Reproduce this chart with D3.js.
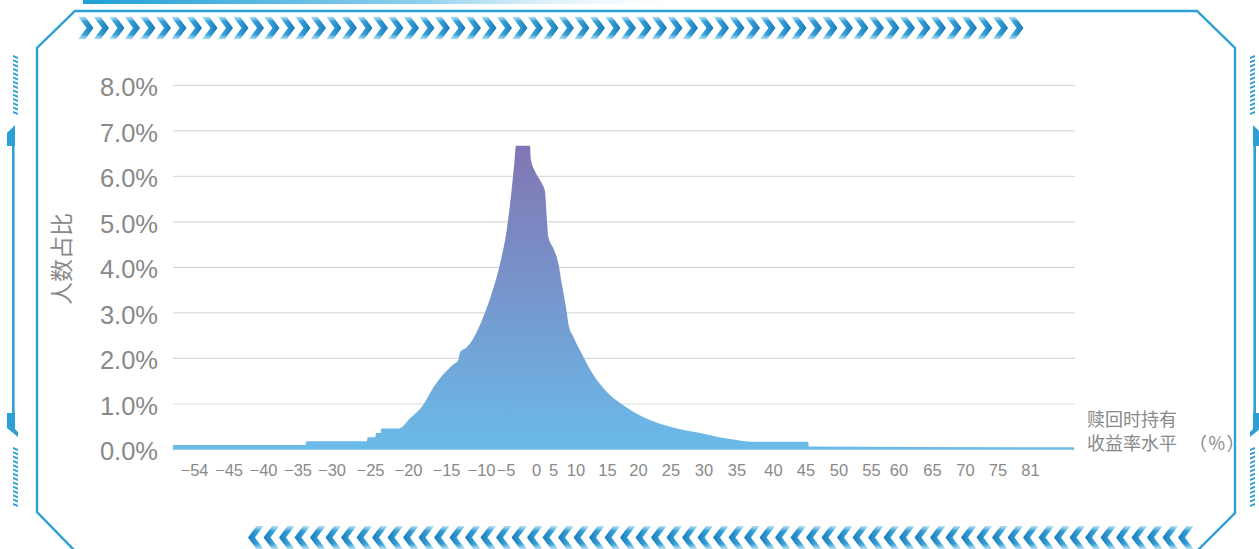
<!DOCTYPE html>
<html>
<head>
<meta charset="utf-8">
<script src="https://cdn.jsdelivr.net/npm/d3@7"></script>
<style>
  html, body { margin: 0; padding: 0; background: #fff; overflow: hidden; }
  svg { display: block; }
</style>
</head>
<body>
<svg id="chart" width="1259" height="549"></svg>
<script>
// ---- data ----
const xTicks = [-54, -45, -40, -35, -30, -25, -20, -15, -10, -5, 0, 5, 10, 15, 20, 25, 30, 35, 40, 45, 50, 55, 60, 65, 70, 75, 81];
const yTicks = [0, 1, 2, 3, 4, 5, 6, 7, 8];

// return level at redemption (%) and share of investors (%)
const returnLevels = [-60, -33.8, -33.7, -25.4, -25.3, -24.3, -24.2, -23.6, -23.5, -21.2, -19.7, -18.0, -16.7, -15.4, -14.0, -13.25, -13.0, -12.0, -11.1, -9.5, -7.8, -6.1, -4.8, -4.0, -3.56, -3.28, -0.98, -0.87, -0.16, 1.68, 2.65, 3.15, 3.62, 5.07, 6.18, 6.93, 8.04, 8.40, 9.51, 11.24, 12.83, 14.95, 17.1, 19.24, 21.85, 24.42, 26.94, 29.47, 32.0, 34.52, 37.1, 45.4, 45.5, 90];
const shares = [0.10, 0.10, 0.18, 0.18, 0.27, 0.27, 0.36, 0.36, 0.46, 0.46, 0.69, 0.98, 1.35, 1.64, 1.86, 1.96, 2.13, 2.25, 2.44, 2.92, 3.43, 4.09, 4.82, 5.70, 6.29, 6.67, 6.67, 6.40, 6.11, 5.85, 5.67, 5.12, 4.68, 4.42, 4.09, 3.65, 3.03, 2.77, 2.48, 2.04, 1.64, 1.27, 1.02, 0.83, 0.65, 0.52, 0.43, 0.36, 0.28, 0.22, 0.17, 0.17, 0.065, 0.05];

const yTitle = "人数占比";
const xTitleLine1 = "赎回时持有";
const xTitleLine2 = ["收益率水平", "（%）"];

// ---- layout ----
const W = 1259, H = 549;
const plotLeft = 173, plotRight = 1075, plotTop = 85.3, plotBottom = 449.5;

// the return axis is piecewise: label stops are spread along the plot width
const axisDomain = [-60, ...xTicks, 90];
const axisOffsets = [0, 21, 55.5, 90, 124.5, 158.5, 197, 235, 273, 308, 332.5, 363, 380, 402.5, 434, 465, 497.5, 530.5, 563.5, 600, 632.5, 665.5, 698, 725.5, 759, 792, 824.5, 857, 901];

const x = d3.scaleLinear().domain(axisDomain).range(axisOffsets.map(o => plotLeft + o));
const y = d3.scaleLinear().domain([0, 8]).range([plotBottom, plotTop]);

const svg = d3.select("#chart");
const defs = svg.append("defs");

const frameBlue = "#2e9fd6";
const numFont = "'Liberation Sans', Arial, sans-serif";
const cjkFont = "'Noto Sans CJK SC', 'Noto Sans', sans-serif";
const textGray = "#898989";

// ---- gradients ----
const areaGrad = defs.append("linearGradient")
  .attr("id", "areaGrad").attr("gradientUnits", "userSpaceOnUse")
  .attr("x1", 0).attr("x2", 0).attr("y1", y(6.67)).attr("y2", y(0));
areaGrad.append("stop").attr("offset", 0).attr("stop-color", "#8176b3");
areaGrad.append("stop").attr("offset", 0.5).attr("stop-color", "#7697cd");
areaGrad.append("stop").attr("offset", 1).attr("stop-color", "#6abbe9");

const chevR = defs.append("linearGradient").attr("id", "chevR")
  .attr("x1", 0).attr("x2", 1).attr("y1", 0).attr("y2", 0);
chevR.append("stop").attr("offset", 0).attr("stop-color", "#4cbde8");
chevR.append("stop").attr("offset", 1).attr("stop-color", "#1877bb");

const chevL = defs.append("linearGradient").attr("id", "chevL")
  .attr("x1", 0).attr("x2", 1).attr("y1", 0).attr("y2", 0);
chevL.append("stop").attr("offset", 0).attr("stop-color", "#1877bb");
chevL.append("stop").attr("offset", 1).attr("stop-color", "#4cbde8");

// soft fade at the chevron tips
const fade = defs.append("linearGradient").attr("id", "chevFade")
  .attr("x1", 0).attr("x2", 0).attr("y1", 0).attr("y2", 1);
[[0, 0.35], [0.22, 1], [0.78, 1], [1, 0.35]].forEach(([o, a]) =>
  fade.append("stop").attr("offset", o).attr("stop-color", "#fff").attr("stop-opacity", a));
const mask = defs.append("mask").attr("id", "chevMask")
  .attr("maskContentUnits", "objectBoundingBox");
mask.append("rect").attr("width", 1).attr("height", 1).attr("fill", "url(#chevFade)");

const topBar = defs.append("linearGradient").attr("id", "topBar")
  .attr("x1", 0).attr("x2", 1).attr("y1", 0).attr("y2", 0);
topBar.append("stop").attr("offset", 0).attr("stop-color", "#1f9fd5");
topBar.append("stop").attr("offset", 0.55).attr("stop-color", "#8fd0ee");
topBar.append("stop").attr("offset", 1).attr("stop-color", "#ffffff").attr("stop-opacity", 0);

// ---- decorative frame ----
const deco = svg.append("g").attr("class", "frame");

deco.append("rect").attr("x", 83).attr("y", 0).attr("width", 620).attr("height", 4)
  .attr("fill", "url(#topBar)");

deco.append("path")
  .attr("d", "M75,551 L37,512 L37,48 L75,11 L1197,11 L1235,48 L1235,513 L1197,551")
  .attr("fill", "none").attr("stroke", frameBlue).attr("stroke-width", 2.4);

// chevron rows
const chevPitch = 15.5, chevT = 7, chevW = 8.5, chevCount = 61;
const topRow = { x0: 78, top: 16.5, bot: 39.5 };
const botRow = { x0: 248, top: 526, bot: 549 };

deco.append("g").attr("mask", "url(#chevMask)")
  .selectAll("path").data(d3.range(chevCount)).join("path")
  .attr("d", i => {
    const a = topRow.x0 + i * chevPitch, m = (topRow.top + topRow.bot) / 2;
    return `M${a},${topRow.top} L${a + chevT},${topRow.top} L${a + chevT + chevW},${m} L${a + chevT},${topRow.bot} L${a},${topRow.bot} L${a + chevW},${m} Z`;
  })
  .attr("fill", "url(#chevR)");

deco.append("g").attr("mask", "url(#chevMask)")
  .selectAll("path").data(d3.range(chevCount)).join("path")
  .attr("d", i => {
    const a = botRow.x0 + i * chevPitch, m = (botRow.top + botRow.bot) / 2;
    const r = a + chevT + chevW;
    return `M${r},${botRow.top} L${r - chevT},${botRow.top} L${a},${m} L${r - chevT},${botRow.bot} L${r},${botRow.bot} L${r - chevW},${m} Z`;
  })
  .attr("fill", "url(#chevL)");

// side brackets with hatched strips, left and mirrored right
function sideOrnament(g) {
  const hatch = (y0, y1) => {
    g.append("g").selectAll("path").data(d3.range(y0, y1, 4.3)).join("path")
      .attr("d", v => `M13,${v} L18,${v + 2} L18,${v + 4} L13,${v + 2} Z`)
      .attr("fill", frameBlue);
  };
  hatch(55, 115);
  hatch(447, 507);
  g.append("path").attr("d", "M15,125 L15,146 L7,146 L7,133 Z").attr("fill", frameBlue);
  g.append("rect").attr("x", 12).attr("y", 140).attr("width", 2.6).attr("height", 276).attr("fill", frameBlue);
  g.append("path").attr("d", "M7,413 L15,413 L15,429 L18,432 L18,437 L7,428 Z").attr("fill", frameBlue);
}
sideOrnament(deco.append("g"));
sideOrnament(deco.append("g").attr("transform", "translate(1268,0) scale(-1,1)"));

// ---- grid ----
svg.append("g").attr("class", "grid")
  .selectAll("line").data(yTicks).join("line")
  .attr("x1", plotLeft).attr("x2", plotRight)
  .attr("y1", d => y(d)).attr("y2", d => y(d))
  .attr("stroke", "#d9d9d9").attr("stroke-width", 1.2);

// ---- area ----
const area = d3.area()
  .x((d, i) => x(returnLevels[i]))
  .y0(y(0))
  .y1(d => y(d))
  .curve(d3.curveMonotoneX);

svg.append("path").datum(shares)
  .attr("d", area)
  .attr("fill", "url(#areaGrad)");

// ---- y axis ----
const yAxis = d3.axisLeft(y).tickValues(yTicks).tickSize(0).tickPadding(0)
  .tickFormat(d => d3.format(".1f")(d) + "%");
const yg = svg.append("g").attr("transform", `translate(158,1)`).call(yAxis);
yg.select(".domain").remove();
yg.selectAll("text").attr("font-family", numFont).attr("font-size", 25.5)
  .attr("fill", textGray).attr("dy", "0.36em");

// ---- x axis ----
const xAxis = d3.axisBottom(x).tickValues(xTicks).tickSize(0).tickPadding(0)
  .tickFormat(d => String(d).replace("-", "\u2212"));
const xg = svg.append("g").attr("transform", `translate(0,${plotBottom})`).call(xAxis);
xg.select(".domain").remove();
xg.selectAll("text").attr("font-family", numFont).attr("font-size", 16.5)
  .attr("fill", textGray).attr("dy", null).attr("y", 26.5);

// ---- titles ----
svg.append("text")
  .attr("transform", "translate(60,259) rotate(-90)")
  .attr("text-anchor", "middle").attr("dominant-baseline", "central")
  .attr("font-family", cjkFont).attr("font-size", 23).attr("fill", textGray)
  .text(yTitle);

const xTitle = svg.append("text")
  .attr("font-family", cjkFont).attr("font-size", 18).attr("fill", textGray);
xTitle.append("tspan").attr("x", 1087).attr("y", 426).text(xTitleLine1);
xTitle.append("tspan").attr("x", 1087).attr("y", 449.5).text(xTitleLine2[0]);
xTitle.append("tspan").attr("dx", 12).attr("letter-spacing", 1.5).text(xTitleLine2[1]);
</script>
</body>
</html>
